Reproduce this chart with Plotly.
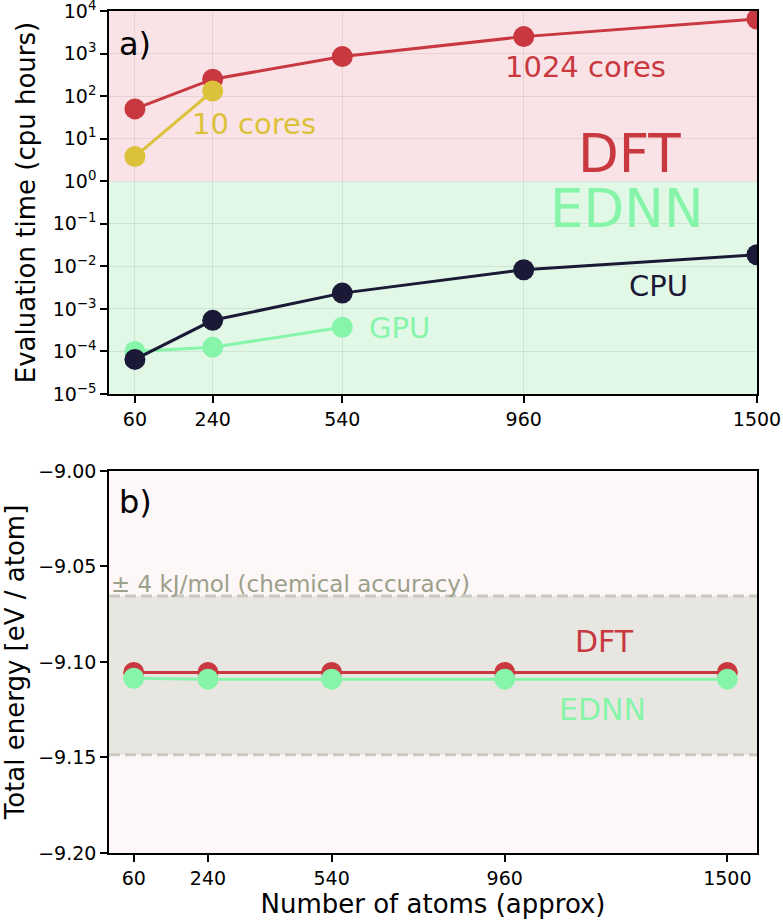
import plotly.graph_objects as go

# ---- data ----
atoms = [60, 240, 540, 960, 1500]
dft_1024 = [50, 250, 850, 2500, 6500]
atoms_10 = [60, 240]
dft_10 = [3.8, 132]
cpu_time = [6.5e-5, 5.4e-4, 2.35e-3, 8.3e-3, 1.87e-2]
atoms_gpu = [60, 240, 540]
gpu_time = [1.0e-4, 1.25e-4, 3.7e-4]

energy_dft = [-9.1055, -9.1055, -9.1055, -9.1055, -9.1055]
energy_ednn = [-9.1085, -9.109, -9.109, -9.109, -9.109]
band_center = -9.107
band_half = 0.0415

tick_atoms = [60, 240, 540, 960, 1500]
time_exponents = [-5, -4, -3, -2, -1, 0, 1, 2, 3, 4]
energy_ticks = [-9.00, -9.05, -9.10, -9.15, -9.20]

RED = "#c9383f"
YEL = "#dcc23a"
NAVY = "#1b1a36"
MINT = "#86f5aa"
FONT = "DejaVu Sans"

time_tickvals = [10.0 ** e for e in time_exponents]
time_ticktext = ["10<sup>" + str(e).replace("-", "−") + "</sup>" for e in time_exponents]

fig = go.Figure()

mk = lambda c: dict(size=21, color=c)
fig.add_trace(go.Scatter(x=atoms, y=dft_1024, mode="lines+markers", line=dict(color=RED, width=3),
                         marker=mk(RED), xaxis="x", yaxis="y", showlegend=False, cliponaxis=True))
fig.add_trace(go.Scatter(x=atoms_10, y=dft_10, mode="lines+markers", line=dict(color=YEL, width=3),
                         marker=mk(YEL), xaxis="x", yaxis="y", showlegend=False, cliponaxis=True))
fig.add_trace(go.Scatter(x=atoms_gpu, y=gpu_time, mode="lines+markers", line=dict(color=MINT, width=3),
                         marker=mk(MINT), xaxis="x", yaxis="y", showlegend=False, cliponaxis=True))
fig.add_trace(go.Scatter(x=atoms, y=cpu_time, mode="lines+markers", line=dict(color=NAVY, width=3),
                         marker=mk(NAVY), xaxis="x", yaxis="y", showlegend=False, cliponaxis=True))

fig.add_trace(go.Scatter(x=atoms, y=energy_dft, mode="lines+markers", line=dict(color=RED, width=3),
                         marker=mk(RED), xaxis="x2", yaxis="y2", showlegend=False))
fig.add_trace(go.Scatter(x=atoms, y=energy_ednn, mode="lines+markers", line=dict(color=MINT, width=3),
                         marker=mk(MINT), xaxis="x2", yaxis="y2", showlegend=False))

# background regions
shapes = [
    dict(type="rect", xref="x domain", yref="y domain", x0=0, x1=1, y0=5/9, y1=1,
         fillcolor="#fae3e6", line_width=0, layer="below"),
    dict(type="rect", xref="x domain", yref="y domain", x0=0, x1=1, y0=0, y1=5/9,
         fillcolor="#e2f8e7", line_width=0, layer="below"),
    dict(type="rect", xref="x2 domain", yref="y2 domain", x0=0, x1=1, y0=0, y1=1,
         fillcolor="#fdf7f7", line_width=0, layer="below"),
    dict(type="rect", xref="x2 domain", yref="y2", x0=0, x1=1,
         y0=band_center - band_half, y1=band_center + band_half,
         fillcolor="#e8e6e0", line_width=0, layer="below"),
    dict(type="line", xref="x2 domain", yref="y2", x0=0, x1=1,
         y0=band_center + band_half, y1=band_center + band_half,
         line=dict(color="#c9c9c0", width=3, dash="11px,5px"), layer="below"),
    dict(type="line", xref="x2 domain", yref="y2", x0=0, x1=1,
         y0=band_center - band_half, y1=band_center - band_half,
         line=dict(color="#c9c9c0", width=3, dash="11px,5px"), layer="below"),
]

def ann(text, x, y, ref, size, color, xanchor="center"):
    return dict(text=text, x=x, y=y, xref=f"{ref[0]} domain", yref=f"{ref[1]} domain",
                showarrow=False, xanchor=xanchor, yanchor="middle",
                font=dict(family=FONT, size=size, color=color))

annotations = [
    ann("a)", 0.012, 0.915, ("x", "y"), 32, "black", "left"),
    ann("1024 cores", 0.7346, 0.853, ("x", "y"), 29, RED),
    ann("10 cores", 0.2235, 0.705, ("x", "y"), 29, YEL),
    ann("DFT", 0.804, 0.627, ("x", "y"), 53, RED),
    ann("EDNN", 0.800, 0.484, ("x", "y"), 53, MINT),
    ann("CPU", 0.848, 0.282, ("x", "y"), 29, NAVY),
    ann("GPU", 0.449, 0.173, ("x", "y"), 29, MINT),
    ann("b)", 0.012, 0.918, ("x2", "y2"), 32, "black", "left"),
    ann("± 4 kJ/mol (chemical accuracy)", 0.0, 0.704, ("x2", "y2"), 23, "#9aa08a", "left"),
    ann("DFT", 0.765, 0.553, ("x2", "y2"), 30, RED),
    ann("EDNN", 0.762, 0.375, ("x2", "y2"), 30, MINT),
]

axis_common = dict(showline=True, linecolor="black", linewidth=1.5, mirror=True,
                   ticks="outside", ticklen=7, tickwidth=1.5, tickcolor="black", automargin=False,
                   ticklabeloverflow="allow",
                   tickfont=dict(family=FONT, size=19, color="black"), zeroline=False)

top_dom = [0.5451, 1.0]
bot_dom = [0.0, 0.4537]

fig.update_layout(
    width=783, height=923,
    margin=dict(l=109, r=26, t=11, b=70),
    paper_bgcolor="white", plot_bgcolor="rgba(0,0,0,0)",
    font=dict(family=FONT, color="black"),
    shapes=shapes, annotations=annotations,
    xaxis=dict(axis_common, domain=[0, 1], anchor="y", range=[0, 1500],
               tickvals=tick_atoms, showgrid=True, gridcolor="rgba(0,0,0,0.08)", gridwidth=1),
    yaxis=dict(axis_common, domain=top_dom, anchor="x", type="log", range=[-5, 4],
               tickvals=time_tickvals, ticktext=time_ticktext,
               showgrid=True, gridcolor="rgba(0,0,0,0.08)", gridwidth=1,
               title=dict(text="Evaluation time (cpu hours)", font=dict(family=FONT, size=26), standoff=10)),
    xaxis2=dict(axis_common, domain=[0, 1], anchor="y2", range=[0, 1572],
                tickvals=tick_atoms, showgrid=False,
                title=dict(text="Number of atoms (approx)", font=dict(family=FONT, size=26), standoff=0)),
    yaxis2=dict(axis_common, domain=bot_dom, anchor="x2", range=[-9.2, -9.0],
                tickvals=energy_ticks, tickformat=".2f", showgrid=False,
                title=dict(text="Total energy [eV / atom]", font=dict(family=FONT, size=26), standoff=12)),
)

fig.write_html("out.html", config={"displayModeBar": False},
               post_script="document.body.style.margin='0';document.body.style.overflow='hidden';")
